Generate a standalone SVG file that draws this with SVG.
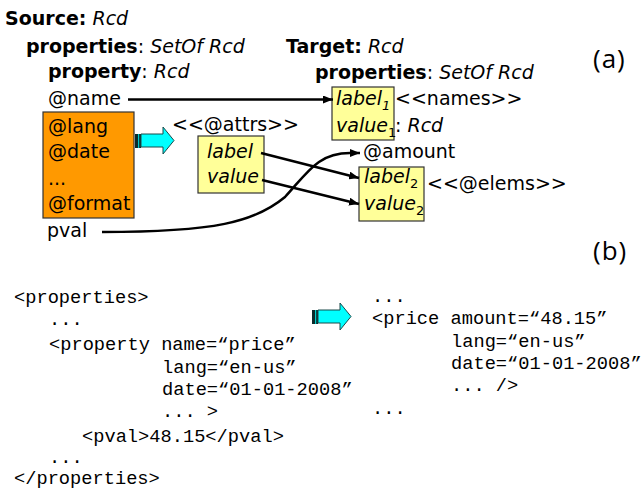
<svg xmlns="http://www.w3.org/2000/svg" width="644" height="491" viewBox="0 0 644 491">
<style>
.s{font-family:"DejaVu Sans",Verdana,sans-serif;font-size:19px;fill:#000}
.b{font-weight:bold}
.i{font-style:italic}
.m{font-family:"Liberation Mono","Courier New",monospace;font-size:18.7px;fill:#000}
.p{font-family:"Open Sans","Liberation Sans",sans-serif;font-size:26px;fill:#000;letter-spacing:1px}
.yel{fill:#FFFF99;stroke:#333;stroke-width:1.2}
.org{fill:#FF9900;stroke:#333;stroke-width:1.2}
.con{fill:none;stroke:#000;stroke-width:2.5}
.cy{fill:#00FFFF;stroke:#1a4a4a;stroke-width:1}
</style>
<defs>
<marker id="ah" viewBox="0 0 10 8" refX="10" refY="4" markerWidth="10" markerHeight="8" markerUnits="userSpaceOnUse" orient="auto">
<path d="M0,0 L10,4 L0,8 z" fill="#000"/>
</marker>
<g id="blockArrow">
<rect x="0" y="7" width="6" height="14" fill="#0a2a2a"/>
<rect x="3" y="7" width="1.2" height="14" fill="#00cccc"/>
<path d="M6,7 L28,7 L28,0 L39,13.5 L28,27 L28,20 L6,20 z" class="cy"/>
</g>
</defs>

<g id="headers">
<text class="s" x="5" y="25"><tspan class="b">Source:</tspan> <tspan class="i">Rcd</tspan></text>
<text class="s" x="26" y="53"><tspan class="b">properties</tspan>: <tspan class="i">SetOf Rcd</tspan></text>
<text class="s" x="286" y="53"><tspan class="b">Target:</tspan> <tspan class="i">Rcd</tspan></text>
<text class="s" x="48" y="78"><tspan class="b">property</tspan>: <tspan class="i">Rcd</tspan></text>
<text class="s" x="315" y="79"><tspan class="b">properties</tspan>: <tspan class="i">SetOf Rcd</tspan></text>
<text class="p" x="593" y="68">(a)</text>
<text class="p" x="593" y="260">(b)</text>
</g>

<g id="source-name"><text class="s" x="48" y="105">@name</text></g>

<g id="source-attrs">
<rect class="org" x="43" y="112" width="91" height="106"/>
<text class="s" x="48" y="133">@lang</text>
<text class="s" x="48" y="158">@date</text>
<text class="s" x="48" y="185">...</text>
<text class="s" x="48" y="210">@format</text>
</g>

<g id="source-pval"><text class="s" x="47" y="237">pval</text></g>

<g id="transform-a"><use href="#blockArrow" x="135" y="127"/></g>

<g id="attrs-box">
<text class="s" x="172" y="131">&lt;&lt;@attrs&gt;&gt;</text>
<rect class="yel" x="198" y="136" width="66" height="57"/>
<text class="s i" x="207" y="158">label</text>
<text class="s i" x="207" y="183">value</text>
</g>

<g id="names-box">
<rect class="yel" x="332" y="87" width="62" height="53"/>
<text class="s i" x="336" y="105">label<tspan font-size="13" dy="5">1</tspan></text>
<text class="s i" x="336" y="132">value<tspan font-size="13" dy="5" font-style="normal">1</tspan></text>
<text class="s" x="395" y="105">&lt;&lt;names&gt;&gt;</text>
<text class="s" x="395" y="132">: <tspan class="i">Rcd</tspan></text>
</g>

<g id="target-amount"><text class="s" x="363" y="158">@amount</text></g>

<g id="elems-box">
<rect class="yel" x="359" y="167" width="65" height="54"/>
<text class="s i" x="364" y="183">label<tspan font-size="13" dy="5" font-style="normal">2</tspan></text>
<text class="s i" x="364" y="210">value<tspan font-size="13" dy="5" font-style="normal">2</tspan></text>
<text class="s" x="427" y="190">&lt;&lt;@elems&gt;&gt;</text>
</g>

<g id="connectors">
<line class="con" x1="128" y1="99.5" x2="333" y2="99.5" marker-end="url(#ah)"/>
<line class="con" x1="261" y1="153" x2="359" y2="178" marker-end="url(#ah)"/>
<line class="con" x1="262" y1="180" x2="359" y2="204" marker-end="url(#ah)"/>
<path class="con" d="M102,232 C215,232 255,222 285,197 C308,172 318,153 350,153 L360,153" marker-end="url(#ah)"/>
</g>

<g id="xml-source">
<text class="m" x="14" y="303">&lt;properties&gt;</text>
<text class="m" x="49" y="325">...</text>
<text class="m" x="49" y="350">&lt;property name=“price”</text>
<text class="m" x="162" y="373">lang=“en-us”</text>
<text class="m" x="162" y="395">date=“01-01-2008”</text>
<text class="m" x="162" y="417">... &gt;</text>
<text class="m" x="82" y="442">&lt;pval&gt;48.15&lt;/pval&gt;</text>
<text class="m" x="49" y="463">...</text>
<text class="m" x="14" y="484">&lt;/properties&gt;</text>
</g>

<g id="transform-b"><use href="#blockArrow" x="312" y="303"/></g>

<g id="xml-target">
<text class="m" x="372" y="302">...</text>
<text class="m" x="372" y="324">&lt;price amount=“48.15”</text>
<text class="m" x="451" y="347">lang=“en-us”</text>
<text class="m" x="451" y="369">date=“01-01-2008”</text>
<text class="m" x="451" y="391">... /&gt;</text>
<text class="m" x="372" y="414">...</text>
</g>
</svg>
